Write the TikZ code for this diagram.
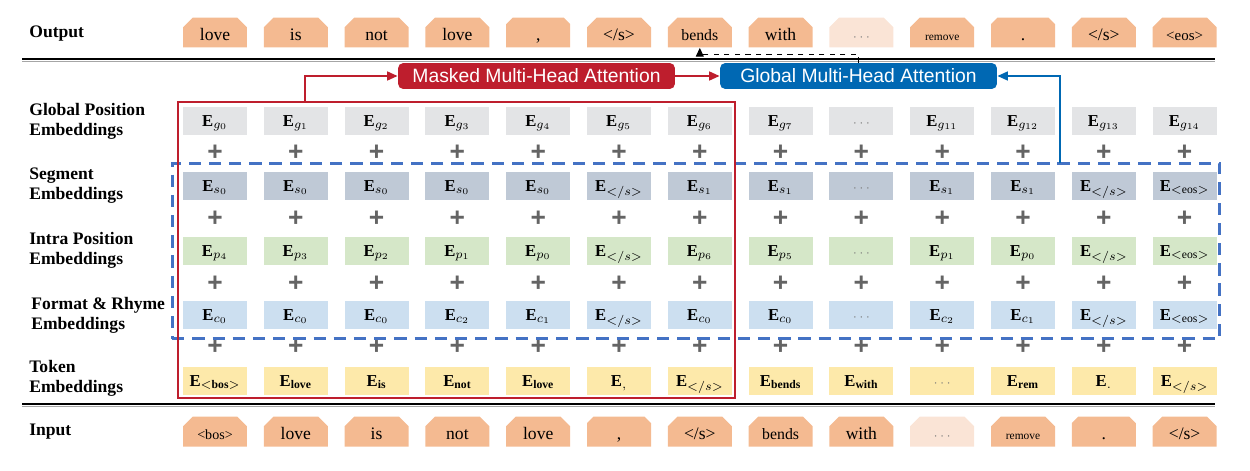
\documentclass[tikz,border=0pt]{standalone}
\usepackage{fontspec}
\setmainfont{Liberation Serif}
\newfontfamily\attnfont{Liberation Sans}
\usetikzlibrary{shapes.misc,arrows.meta}

\definecolor{OutOrange}{RGB}{244,186,145}
\definecolor{OutPale}{RGB}{250,228,214}
\definecolor{GlobalGray}{RGB}{227,228,230}
\definecolor{SegGray}{RGB}{191,201,214}
\definecolor{IntraGreen}{RGB}{213,231,200}
\definecolor{FormatBlue}{RGB}{204,223,240}
\definecolor{TokYellow}{RGB}{253,233,170}
\definecolor{MaskRed}{RGB}{190,30,45}
\definecolor{GlobBlue}{RGB}{0,104,179}
\definecolor{DashBlue}{RGB}{68,114,196}
\definecolor{PlusGray}{RGB}{100,100,100}
\definecolor{DotGray}{RGB}{120,120,120}

\newcommand{\Ev}[1]{$\mathbf{E}_{#1}$}
\newcommand{\gapdots}{{\color{DotGray}\fontsize{7}{7}\selectfont$\cdots$}}
\newcommand{\clstag}{</s>}
\newcommand{\bostag}{{\fontsize{8}{8}\selectfont<bos>}}
\newcommand{\eostag}{{\fontsize{8.5}{8.5}\selectfont<eos>}}
\newcommand{\commaw}{,}
\newcommand{\fsz}[2]{{\fontsize{#1}{#1}\selectfont #2}}

\tikzset{
  cell/.style={minimum width=1.28cm, minimum height=0.56cm, inner sep=0pt,
    text height=8pt, text depth=2pt, font=\fontsize{9.5}{10}\selectfont},
  word/.style={chamfered rectangle, chamfered rectangle corners={north west,north east},
    chamfered rectangle xsep=2.5pt, minimum width=1.28cm, minimum height=0.6cm,
    inner sep=0pt, text height=10pt, text depth=0.5pt, font=\fontsize{10}{10}\selectfont},
  plussign/.style={text=PlusGray, inner sep=0pt, font=\attnfont\bfseries\fontsize{15}{15}\selectfont},
  rowlabel/.style={anchor=west, align=left, inner sep=0pt, font=\bfseries\fontsize{10}{11.3}\selectfont},
  attn/.style={rounded corners=3pt, minimum width=5.54cm, minimum height=0.52cm, inner sep=0pt,
    text=white, font=\attnfont\fontsize{11}{11}\selectfont},
  redline/.style={MaskRed, line width=1.2pt, -{Triangle[length=6pt,width=5pt]}},
  blueline/.style={GlobBlue, line width=1.2pt, -{Triangle[length=6pt,width=5pt]}}
}

\begin{document}
\begin{tikzpicture}[x=0.02cm, y=-0.02cm]
\useasboundingbox (0,0) rectangle (1250,470);

\node[rowlabel] (lout) at (29,34) {Output};
\node[rowlabel] (lgp) at (29,121) {Global Position\\Embeddings};
\node[rowlabel] (lseg) at (29,186) {Segment\\Embeddings};
\node[rowlabel] (lintra) at (29,250) {Intra Position\\Embeddings};
\node[rowlabel] (lfmt) at (31,315) {Format \& Rhyme\\Embeddings};
\node[rowlabel] (ltok) at (29,378) {Token\\Embeddings};
\node[rowlabel] (lin) at (29,432) {Input};

\draw[line width=1.1pt] (22,59) -- (1215,59);
\draw[black!35, line width=0.6pt] (22,61.3) -- (1215,61.3);
\draw[line width=1.1pt] (22,404) -- (1215,404);
\draw[black!35, line width=0.6pt] (22,406.3) -- (1215,406.3);

% words
\foreach \t/\f [count=\i] in {love/OutOrange,is/OutOrange,not/OutOrange,love/OutOrange,\commaw/OutOrange,\clstag/OutOrange,\fsz{9}{bends}/OutOrange,with/OutOrange,\gapdots/OutPale,\fsz{6.5}{remove}/OutOrange,./OutOrange,\clstag/OutOrange,\eostag/OutOrange}
  \node[word, fill=\f] (out\i) at ({215+(\i-1)*80.8},32.5) {\t};
\foreach \t/\f [count=\i] in {\bostag/OutOrange,love/OutOrange,is/OutOrange,not/OutOrange,love/OutOrange,\commaw/OutOrange,\clstag/OutOrange,\fsz{9}{bends}/OutOrange,with/OutOrange,\gapdots/OutPale,\fsz{6.5}{remove}/OutOrange,./OutOrange,\clstag/OutOrange}
  \node[word, fill=\f] (in\i) at ({215+(\i-1)*80.8},431.5) {\t};

% embeddings
\foreach \t [count=\i] in {\Ev{g_0},\Ev{g_1},\Ev{g_2},\Ev{g_3},\Ev{g_4},\Ev{g_5},\Ev{g_6},\Ev{g_7},\gapdots,\Ev{g_{11}},\Ev{g_{12}},\Ev{g_{13}},\Ev{g_{14}}}
  \node[cell, fill=GlobalGray] (gp\i) at ({215+(\i-1)*80.8},121) {\t};
\foreach \t [count=\i] in {\Ev{s_0},\Ev{s_0},\Ev{s_0},\Ev{s_0},\Ev{s_0},\Ev{</s>},\Ev{s_1},\Ev{s_1},\gapdots,\Ev{s_1},\Ev{s_1},\Ev{</s>},\Ev{<\mathrm{eos}>}}
  \node[cell, fill=SegGray] (seg\i) at ({215+(\i-1)*80.8},186) {\t};
\foreach \t [count=\i] in {\Ev{p_4},\Ev{p_3},\Ev{p_2},\Ev{p_1},\Ev{p_0},\Ev{</s>},\Ev{p_6},\Ev{p_5},\gapdots,\Ev{p_1},\Ev{p_0},\Ev{</s>},\Ev{<\mathrm{eos}>}}
  \node[cell, fill=IntraGreen] (intra\i) at ({215+(\i-1)*80.8},251) {\t};
\foreach \t [count=\i] in {\Ev{c_0},\Ev{c_0},\Ev{c_0},\Ev{c_2},\Ev{c_1},\Ev{</s>},\Ev{c_0},\Ev{c_0},\gapdots,\Ev{c_2},\Ev{c_1},\Ev{</s>},\Ev{<\mathrm{eos}>}}
  \node[cell, fill=FormatBlue] (fmt\i) at ({215+(\i-1)*80.8},315) {\t};
\foreach \t [count=\i] in {\Ev{<\mathbf{bos}>},\Ev{\mathbf{love}},\Ev{\mathbf{is}},\Ev{\mathbf{not}},\Ev{\mathbf{love}},\Ev{,},\Ev{</s>},\Ev{\mathbf{bends}},\Ev{\mathbf{with}},\gapdots,\Ev{\mathbf{rem}},\Ev{.},\Ev{</s>}}
  \node[cell, fill=TokYellow] (tok\i) at ({215+(\i-1)*80.8},381) {\t};

\foreach \py [count=\r] in {153,219,284,347}
  \foreach \i in {1,...,13}
    \node[plussign] (plus\r-\i) at ({215+(\i-1)*80.8},\py) {+};

% frames
\node[draw=DashBlue, line width=1.7pt, dash pattern=on 7pt off 4.5pt, minimum width=20.96cm,
  minimum height=3.52cm, inner sep=0pt] (blueframe) at (696,251) {};
\node[draw=MaskRed, line width=1.2pt, minimum width=11.14cm, minimum height=5.92cm,
  inner sep=0pt] (redframe) at (456.5,250) {};

\node[attn, fill=MaskRed] (masked) at (536.5,76) {Masked Multi-Head Attention};
\node[attn, fill=GlobBlue] (global) at (858.5,76) {Global Multi-Head Attention};

\coordinate (redtap) at (305,102);
\coordinate (bluetap) at (1060,163);
\draw[redline] (redtap) |- (masked.west);
\draw[redline] (masked) -- (global);
\draw[blueline] (bluetap) |- (global.east);
\draw[dashed, line width=0.6pt, -{Triangle[length=5pt,width=4.5pt]}] (global.north) -- ++(0,-8) -| (out7.south);
\end{tikzpicture}
\end{document}
